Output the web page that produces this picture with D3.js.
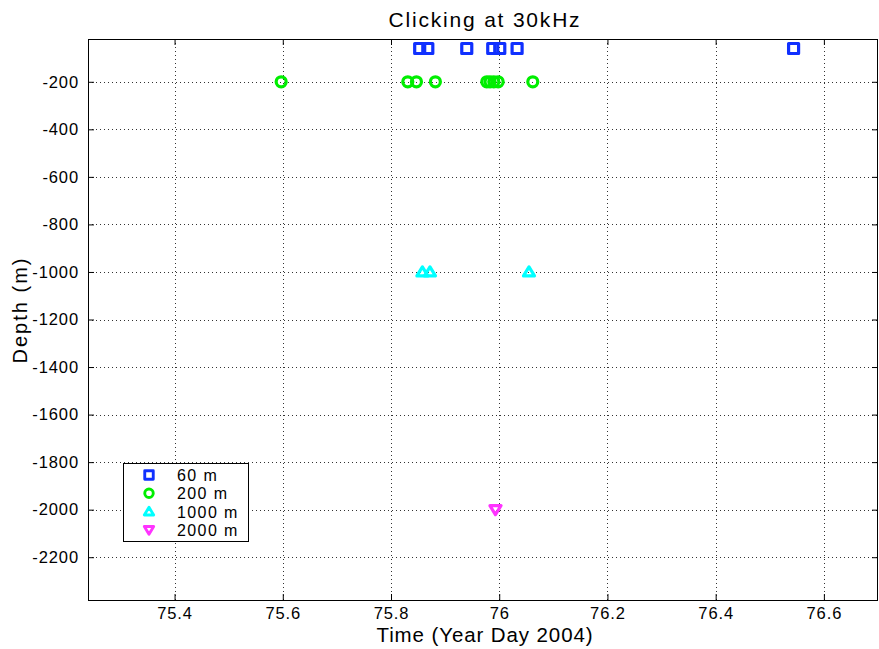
<!DOCTYPE html>
<html>
<head>
<meta charset="utf-8">
<script src="https://cdn.jsdelivr.net/npm/d3@7"></script>
<style>
  body { margin: 0; background: #fff; }
  svg { display: block; font-family: Arial, "Liberation Sans", Helvetica, sans-serif; }
</style>
</head>
<body>
<svg id="chart" width="879" height="649"></svg>
<script>
// Click detections by hydrophone depth: time (year day) of each click
const times60 = [75.853, 75.868, 75.940, 75.988, 76.001, 76.033, 76.544];
const times200 = [75.597, 75.831, 75.847, 75.882, 75.977, 75.983, 75.990, 75.998, 76.062];
const times1000 = [75.858, 75.872, 76.055];
const times2000 = [75.993];

const seriesNames = ["60 m", "200 m", "1000 m", "2000 m"];
const seriesDepths = [-60, -200, -1000, -2000];
const seriesColors = ["#1030ff", "#00ee00", "#00ffff", "#ff33ff"];
const seriesSymbols = ["square", "circle", "triangleUp", "triangleDown"];

const xTicks = [75.4, 75.6, 75.8, 76, 76.2, 76.4, 76.6];
const yTicks = [-200, -400, -600, -800, -1000, -1200, -1400, -1600, -1800, -2000, -2200];

const seriesTimes = [times60, times200, times1000, times2000];

const svg = d3.select("#chart");
const margin = { left: 88, right: 1, top: 39, bottom: 49 };
const W = 879, H = 649;

const x = d3.scaleLinear().domain([75.24, 76.70]).range([margin.left, W - margin.right]);
const y = d3.scaleLinear().domain([-2380, -20]).range([H - margin.bottom, margin.top]);

const x0 = margin.left, x1 = W - margin.right, y0 = margin.top, y1 = H - margin.bottom;

// dotted grid
const grid = svg.append("g").attr("stroke", "#333").attr("stroke-width", 1).attr("stroke-dasharray", "1,3");
xTicks.forEach(t => grid.append("line").attr("x1", Math.round(x(t)) + 0.5).attr("x2", Math.round(x(t)) + 0.5).attr("y1", y0).attr("y2", y1));
yTicks.forEach(t => grid.append("line").attr("y1", Math.round(y(t)) + 0.5).attr("y2", Math.round(y(t)) + 0.5).attr("x1", x0).attr("x2", x1));

// plain hyphen-minus labels
const plain = d => String(d);

// axes with inward ticks on all four sides
const tickLen = 6;
const xAxisB = d3.axisBottom(x).tickValues(xTicks).tickSizeInner(-tickLen).tickSizeOuter(0).tickPadding(7).tickFormat(plain);
const xAxisT = d3.axisTop(x).tickValues(xTicks).tickSizeInner(-tickLen).tickSizeOuter(0).tickFormat("");
const yAxisL = d3.axisLeft(y).tickValues(yTicks).tickSizeInner(-tickLen).tickSizeOuter(0).tickPadding(9).tickFormat(plain);
const yAxisR = d3.axisRight(y).tickValues(yTicks).tickSizeInner(-tickLen).tickSizeOuter(0).tickFormat("");

function styleAxis(g) {
  g.selectAll(".domain").remove();
  g.selectAll("line").attr("stroke", "#000");
  g.selectAll("text").attr("fill", "#000").attr("font-size", 16.5).attr("letter-spacing", 0.9);
}
svg.append("g").attr("transform", `translate(0,${y1})`).call(xAxisB).call(styleAxis);
svg.append("g").attr("transform", `translate(0,${y0})`).call(xAxisT).call(styleAxis);
svg.append("g").attr("transform", `translate(${x0},0)`).call(yAxisL).call(styleAxis);
svg.append("g").attr("transform", `translate(${x1},0)`).call(yAxisR).call(styleAxis);

// axes box
svg.append("rect").attr("x", x0 + 0.5).attr("y", y0 + 0.5).attr("width", x1 - x0 - 1).attr("height", y1 - y0)
  .attr("fill", "none").attr("stroke", "#000").attr("stroke-width", 1);

// marker shapes
function markerPath(sym) {
  switch (sym) {
    case "square": return "M-5,-5H5V5H-5Z";
    case "circle": return "M5,0A5,5 0 1,1 -5,0A5,5 0 1,1 5,0Z";
    case "triangleUp": return "M0,-5L5.5,4H-5.5Z";
    case "triangleDown": return "M0,5L5.5,-4H-5.5Z";
  }
}

const marks = svg.append("g");
seriesTimes.forEach((arr, i) => {
  marks.selectAll(null).data(arr).enter().append("path")
    .attr("d", markerPath(seriesSymbols[i]))
    .attr("transform", d => `translate(${x(d)},${y(seriesDepths[i])})`)
    .attr("fill", "none").attr("stroke", seriesColors[i]).attr("stroke-width", 3.2)
    .attr("stroke-linejoin", "round");
});

// legend
const leg = svg.append("g");
leg.append("rect").attr("x", 123.5).attr("y", 463.5).attr("width", 125).attr("height", 78)
  .attr("fill", "#fff").attr("stroke", "#000").attr("stroke-width", 1);
seriesNames.forEach((name, i) => {
  const ly = 475 + i * 18.3;
  leg.append("path").attr("d", markerPath(seriesSymbols[i]))
    .attr("transform", `translate(149,${ly}) scale(0.85)`)
    .attr("fill", "none").attr("stroke", seriesColors[i]).attr("stroke-width", 3.4)
    .attr("stroke-linejoin", "round");
  leg.append("text").attr("x", 177).attr("y", ly + 6).attr("font-size", 16).attr("letter-spacing", 1.4).text(name);
});

// titles
svg.append("text").attr("x", 485).attr("y", 27).attr("text-anchor", "middle").attr("font-size", 21).attr("letter-spacing", 1.8).text("Clicking at 30kHz");
svg.append("text").attr("x", 485).attr("y", 642).attr("text-anchor", "middle").attr("font-size", 20.5).attr("letter-spacing", 0.9).text("Time (Year Day 2004)");
svg.append("text").attr("transform", "translate(27,310) rotate(-90)").attr("text-anchor", "middle").attr("font-size", 20).attr("letter-spacing", 2).text("Depth (m)");
</script>
</body>
</html>
